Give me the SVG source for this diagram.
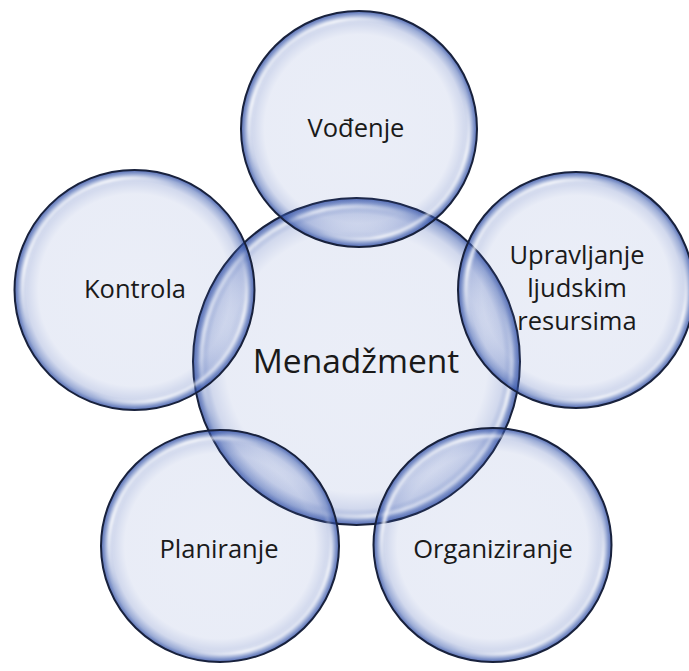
<svg xmlns="http://www.w3.org/2000/svg" width="689" height="671" viewBox="0 0 689 671">
  <defs>
    <radialGradient id="bubble" cx="0.5" cy="0.5" r="0.5">
      <stop offset="0" stop-color="rgb(70,100,185)" stop-opacity="0.11"/>
      <stop offset="0.8" stop-color="rgb(70,100,185)" stop-opacity="0.12"/>
      <stop offset="0.9" stop-color="rgb(65,95,180)" stop-opacity="0.24"/>
      <stop offset="0.96" stop-color="rgb(55,88,172)" stop-opacity="0.5"/>
      <stop offset="1" stop-color="rgb(40,70,160)" stop-opacity="0.8"/>
    </radialGradient>
    <linearGradient id="shine" x1="0" y1="0" x2="1" y2="1">
      <stop offset="0" stop-color="#ffffff" stop-opacity="0"/>
      <stop offset="0.2" stop-color="#ffffff" stop-opacity="0.95"/>
      <stop offset="0.36" stop-color="#ffffff" stop-opacity="0"/>
      <stop offset="0.64" stop-color="#ffffff" stop-opacity="0"/>
      <stop offset="0.8" stop-color="#ffffff" stop-opacity="0.9"/>
      <stop offset="1" stop-color="#ffffff" stop-opacity="0"/>
    </linearGradient>
    <filter id="soft" x="-10%" y="-10%" width="120%" height="120%">
      <feGaussianBlur stdDeviation="1.5"/>
    </filter>
  </defs>
  <style>
    .bub { fill: url(#bubble); stroke: #18213c; stroke-width: 2; }
    .hl { fill: none; stroke: url(#shine); stroke-width: 3.5; filter: url(#soft); }
    .lbl { font-family: "Open Sans", "Noto Sans", "Liberation Sans", sans-serif; font-size: 25.5px; fill: #1a1a1a; text-anchor: middle; }
    .big { font-size: 33.5px; }
  </style>
  <rect width="689" height="671" fill="#ffffff"/>

  <g id="connectors"></g>

  <g id="menadzment">
    <circle class="bub" cx="356.5" cy="361.5" r="163.5"/>
    <circle class="hl" cx="356.5" cy="361.5" r="155"/>
    <text class="lbl big" x="356" y="373">Menadžment</text>
  </g>

  <g id="vodjenje">
    <circle class="bub" cx="359" cy="129" r="118"/>
    <circle class="hl" cx="359" cy="129" r="110"/>
    <text class="lbl" x="356" y="137">Vođenje</text>
  </g>

  <g id="kontrola">
    <circle class="bub" cx="134.5" cy="290" r="120"/>
    <circle class="hl" cx="134.5" cy="290" r="112"/>
    <text class="lbl" x="135" y="298">Kontrola</text>
  </g>

  <g id="upravljanje">
    <circle class="bub" cx="576" cy="290" r="118"/>
    <circle class="hl" cx="576" cy="290" r="110"/>
    <text class="lbl" x="577" y="264">Upravljanje</text>
    <text class="lbl" x="577" y="297">ljudskim</text>
    <text class="lbl" x="577" y="330">resursima</text>
  </g>

  <g id="planiranje">
    <ellipse class="bub" cx="220" cy="546" rx="119" ry="116"/>
    <ellipse class="hl" cx="220" cy="546" rx="111" ry="108"/>
    <text class="lbl" x="219" y="558">Planiranje</text>
  </g>

  <g id="organiziranje">
    <ellipse class="bub" cx="492.5" cy="545" rx="119" ry="117"/>
    <ellipse class="hl" cx="492.5" cy="545" rx="111" ry="109"/>
    <text class="lbl" x="493" y="558">Organiziranje</text>
  </g>
</svg>
